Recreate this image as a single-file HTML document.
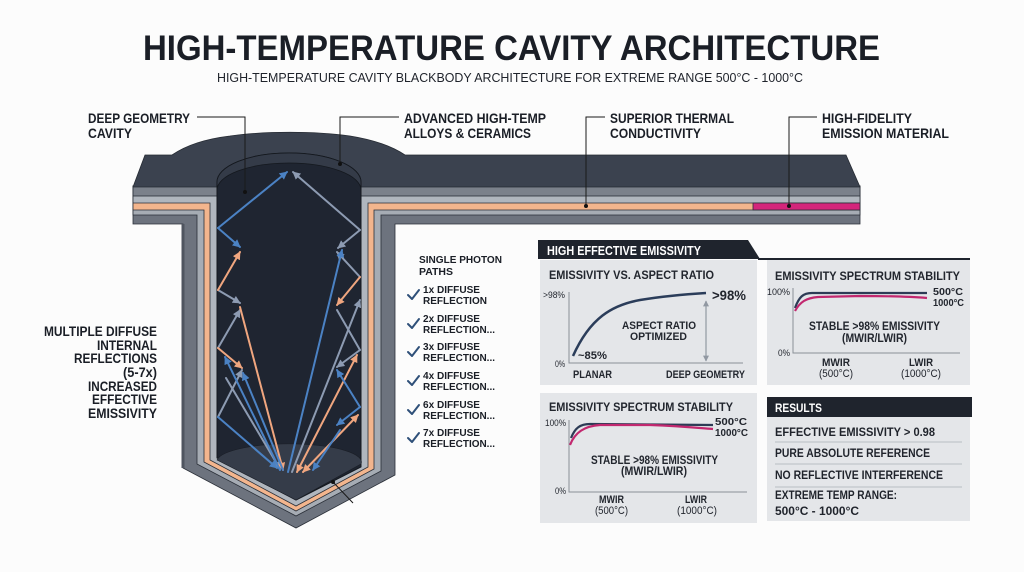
<!DOCTYPE html>
<html><head><meta charset="utf-8"><style>
html,body{margin:0;padding:0;background:#fcfcfc;}
svg{display:block;font-family:"Liberation Sans",Arial,sans-serif;}
</style></head><body>
<svg width="1024" height="572" viewBox="0 0 1024 572" xmlns="http://www.w3.org/2000/svg">
<defs>
<marker id="mb" viewBox="0 0 10 10" refX="9" refY="5" markerWidth="4" markerHeight="4" markerUnits="strokeWidth" orient="auto-start-reverse"><path d="M0,0 L10,5 L0,10 z" fill="#4b82c4"/></marker>
<marker id="mg" viewBox="0 0 10 10" refX="9" refY="5" markerWidth="4" markerHeight="4" markerUnits="strokeWidth" orient="auto-start-reverse"><path d="M0,0 L10,5 L0,10 z" fill="#8d9bb2"/></marker>
<marker id="mp" viewBox="0 0 10 10" refX="9" refY="5" markerWidth="4" markerHeight="4" markerUnits="strokeWidth" orient="auto-start-reverse"><path d="M0,0 L10,5 L0,10 z" fill="#f0a67f"/></marker>
<marker id="ma" viewBox="0 0 10 10" refX="9" refY="5" markerWidth="5" markerHeight="5" markerUnits="strokeWidth" orient="auto-start-reverse"><path d="M0,0 L10,5 L0,10 z" fill="#9198a2"/></marker>
</defs>
<rect width="1024" height="572" fill="#fcfcfc"/>

<!-- Title -->
<text x="143" y="60" font-size="35" font-weight="bold" fill="#1a1e26" textLength="737" lengthAdjust="spacingAndGlyphs">HIGH-TEMPERATURE CAVITY ARCHITECTURE</text>
<text x="217" y="82" font-size="13" fill="#1f232b" textLength="586" lengthAdjust="spacingAndGlyphs">HIGH-TEMPERATURE CAVITY BLACKBODY ARCHITECTURE FOR EXTREME RANGE 500°C - 1000°C</text>

<!-- Structure layers -->
<g stroke="#2a2f38" stroke-width="0.8" stroke-linejoin="miter">
<polygon points="133,186 133,224 183,224 183,468 296,528 395,475 395,224 860,224 860,186" fill="#6d737e"/>
<polygon points="133,186 133,215 197,215 197,464 296,516 381,471 381,215 860,215 860,186" fill="#a6acb4"/>
<polygon points="133,186 133,210 204,210 204,462 296,511 374,469 374,210 860,210 860,186" fill="#f3b58d"/>
<polygon points="133,186 133,203 210,203 210,460 296,506 368,467 368,203 860,203 860,186" fill="#b0b6be"/>
<rect x="753" y="203" width="107" height="7" fill="#d4257b"/>
<rect x="133" y="186" width="727" height="10" fill="#7b818b"/>
<path d="M133,187 L145,155 L172,155 C185,146 205,139 230,136 C265,131 315,131 350,136 C375,140 393,147 405,155 L846,155 L860,187 Z" fill="#3b424f" stroke="#262b33"/>
</g>
<line x1="183" y1="224" x2="183" y2="468" stroke="#4f5560" stroke-width="3"/>

<!-- Cavity -->
<path d="M217,182 A72,29 0 0 1 361,182 L361,467 L296,500 L217,458 Z" fill="#1f2531" stroke="#14181e" stroke-width="1"/>
<path d="M217,182 A72,29 0 0 1 361,182 L361,190 A72,27 0 0 0 217,190 Z" fill="#343b48" stroke="#14181e" stroke-width="0.8"/>
<path d="M217,460 A72,18 0 0 1 361,464 L296,500 Z" fill="#353c49" stroke="#1a1e26" stroke-width="0.6"/>

<!-- Photon paths -->
<g stroke-width="2" fill="none" stroke-linecap="round">
<g stroke="#8d9bb2">
<line x1="360" y1="230" x2="293" y2="172" marker-end="url(#mg)"/>
<line x1="360" y1="230" x2="338" y2="248" marker-end="url(#mg)"/>
<line x1="218" y1="290" x2="240" y2="303" marker-end="url(#mg)"/>
<line x1="218" y1="348" x2="240" y2="310" marker-end="url(#mg)"/>
<line x1="218" y1="417" x2="242" y2="370" marker-end="url(#mg)"/>
<line x1="226" y1="378" x2="280" y2="469" marker-end="url(#mg)"/>
<line x1="292" y1="472" x2="360" y2="300" marker-end="url(#mg)"/>
<line x1="360" y1="277" x2="337" y2="252" marker-end="url(#mg)"/>
<line x1="337" y1="310" x2="360" y2="350"/>
<line x1="360" y1="350" x2="337" y2="367" marker-end="url(#mg)"/>
</g>
<g stroke="#f0a67f">
<line x1="218" y1="290" x2="240" y2="252" marker-end="url(#mp)"/>
<line x1="240" y1="307" x2="283" y2="470" marker-end="url(#mp)"/>
<line x1="218" y1="348" x2="242" y2="368" marker-end="url(#mp)"/>
<line x1="360" y1="277" x2="337" y2="305" marker-end="url(#mp)"/>
<line x1="297" y1="472" x2="357" y2="355" marker-end="url(#mp)" marker-start="url(#mp)"/>
<line x1="303" y1="472" x2="358" y2="415" marker-end="url(#mp)" marker-start="url(#mp)"/>
</g>
<g stroke="#4b82c4">
<line x1="218" y1="228" x2="240" y2="247" marker-end="url(#mb)"/>
<line x1="218" y1="228" x2="287" y2="172" marker-end="url(#mb)"/>
<line x1="280" y1="470" x2="225" y2="357" marker-end="url(#mb)"/>
<line x1="283" y1="470" x2="243" y2="373" marker-end="url(#mb)"/>
<line x1="218" y1="417" x2="277" y2="468" marker-end="url(#mb)"/>
<line x1="288" y1="472" x2="342" y2="250" marker-end="url(#mb)"/>
<line x1="360" y1="407" x2="337" y2="370" marker-end="url(#mb)"/>
<line x1="360" y1="407" x2="337" y2="425" marker-end="url(#mb)"/>
<line x1="340" y1="430" x2="313" y2="470" marker-end="url(#mb)"/>
</g>
</g>

<!-- Leader lines -->
<g stroke="#1a1a1a" stroke-width="1" fill="none">
<polyline points="197,117 245,117 245,192"/>
<polyline points="399,117 340,117 340,164"/>
<polyline points="605,117 586,117 586,206"/>
<polyline points="817,117 789,117 789,206"/>
<line x1="333" y1="482" x2="353" y2="503"/>
</g>
<g fill="#111">
<circle cx="245" cy="192" r="2"/><circle cx="340" cy="164" r="2"/>
<circle cx="586" cy="206" r="2"/><circle cx="789" cy="206" r="2"/>
<circle cx="333" cy="482" r="2"/>
</g>

<!-- Top labels -->
<g font-size="14" font-weight="bold" fill="#1a1e26">
<text x="88" y="123" textLength="102" lengthAdjust="spacingAndGlyphs">DEEP GEOMETRY</text>
<text x="88" y="138" textLength="44" lengthAdjust="spacingAndGlyphs">CAVITY</text>
<text x="404" y="123" textLength="142" lengthAdjust="spacingAndGlyphs">ADVANCED HIGH-TEMP</text>
<text x="404" y="138" textLength="127" lengthAdjust="spacingAndGlyphs">ALLOYS &amp; CERAMICS</text>
<text x="610" y="123" textLength="124" lengthAdjust="spacingAndGlyphs">SUPERIOR THERMAL</text>
<text x="610" y="138" textLength="91" lengthAdjust="spacingAndGlyphs">CONDUCTIVITY</text>
<text x="822" y="123" textLength="90" lengthAdjust="spacingAndGlyphs">HIGH-FIDELITY</text>
<text x="822" y="138" textLength="127" lengthAdjust="spacingAndGlyphs">EMISSION MATERIAL</text>
</g>

<!-- Left block -->
<g font-size="13.5" font-weight="bold" fill="#1a1e26" text-anchor="end">
<text x="157" y="336" textLength="113" lengthAdjust="spacingAndGlyphs">MULTIPLE DIFFUSE</text>
<text x="157" y="350" textLength="60" lengthAdjust="spacingAndGlyphs">INTERNAL</text>
<text x="157" y="363" textLength="83" lengthAdjust="spacingAndGlyphs">REFLECTIONS</text>
<text x="157" y="377" textLength="34" lengthAdjust="spacingAndGlyphs">(5-7x)</text>
<text x="157" y="391" textLength="69" lengthAdjust="spacingAndGlyphs">INCREASED</text>
<text x="157" y="404" textLength="65" lengthAdjust="spacingAndGlyphs">EFFECTIVE</text>
<text x="157" y="418" textLength="69" lengthAdjust="spacingAndGlyphs">EMISSIVITY</text>
</g>

<!-- Single photon paths -->
<g font-size="10.5" font-weight="bold" fill="#1a1e26">
<text x="419" y="263" textLength="83" lengthAdjust="spacingAndGlyphs">SINGLE PHOTON</text>
<text x="419" y="275" textLength="34" lengthAdjust="spacingAndGlyphs">PATHS</text>
<text x="423" y="293" textLength="57" lengthAdjust="spacingAndGlyphs">1x DIFFUSE</text>
<text x="423" y="304" textLength="64" lengthAdjust="spacingAndGlyphs">REFLECTION</text>
<text x="423" y="322" textLength="57" lengthAdjust="spacingAndGlyphs">2x DIFFUSE</text>
<text x="423" y="333" textLength="72" lengthAdjust="spacingAndGlyphs">REFLECTION...</text>
<text x="423" y="350" textLength="57" lengthAdjust="spacingAndGlyphs">3x DIFFUSE</text>
<text x="423" y="361" textLength="72" lengthAdjust="spacingAndGlyphs">REFLECTION...</text>
<text x="423" y="379" textLength="57" lengthAdjust="spacingAndGlyphs">4x DIFFUSE</text>
<text x="423" y="390" textLength="72" lengthAdjust="spacingAndGlyphs">REFLECTION...</text>
<text x="423" y="408" textLength="57" lengthAdjust="spacingAndGlyphs">6x DIFFUSE</text>
<text x="423" y="419" textLength="72" lengthAdjust="spacingAndGlyphs">REFLECTION...</text>
<text x="423" y="436" textLength="57" lengthAdjust="spacingAndGlyphs">7x DIFFUSE</text>
<text x="423" y="447" textLength="72" lengthAdjust="spacingAndGlyphs">REFLECTION...</text>
</g>
<g stroke="#2f5079" stroke-width="2" fill="none" stroke-linecap="round" stroke-linejoin="round">
<polyline points="408,295 412,299 419,290"/>
<polyline points="408,324 412,328 419,319"/>
<polyline points="408,352 412,356 419,347"/>
<polyline points="408,381 412,385 419,376"/>
<polyline points="408,410 412,414 419,405"/>
<polyline points="408,438 412,442 419,433"/>
</g>

<!-- Panels -->
<rect x="540" y="260" width="217" height="125" fill="#e4e6e9"/>
<rect x="767" y="260" width="203" height="125" fill="#e4e6e9"/>
<rect x="540" y="393" width="217" height="130" fill="#e4e6e9"/>
<rect x="767" y="417" width="203" height="104" fill="#e4e6e9"/>
<path d="M538,240 L748,240 L760,259 L538,259 Z" fill="#1f242d"/>
<rect x="758" y="258" width="212" height="2" fill="#1f242d"/>
<rect x="767" y="397" width="205" height="20" fill="#1f242d"/>
<text x="547" y="255" font-size="12.5" font-weight="bold" fill="#fff" textLength="154" lengthAdjust="spacingAndGlyphs">HIGH EFFECTIVE EMISSIVITY</text>
<text x="775" y="412" font-size="12" font-weight="bold" fill="#fff" textLength="47" lengthAdjust="spacingAndGlyphs">RESULTS</text>

<!-- Panel 1 -->
<g fill="#22262e">
<text x="549" y="279" font-size="12" font-weight="bold" textLength="165" lengthAdjust="spacingAndGlyphs">EMISSIVITY VS. ASPECT RATIO</text>
<text x="543" y="298" font-size="9" textLength="22" lengthAdjust="spacingAndGlyphs">&gt;98%</text>
<text x="555" y="367" font-size="9" textLength="10" lengthAdjust="spacingAndGlyphs">0%</text>
<text x="712" y="300" font-size="14" font-weight="bold" textLength="34" lengthAdjust="spacingAndGlyphs">&gt;98%</text>
<text x="622" y="329" font-size="11" font-weight="bold" textLength="74" lengthAdjust="spacingAndGlyphs">ASPECT RATIO</text>
<text x="630" y="340" font-size="11" font-weight="bold" textLength="57" lengthAdjust="spacingAndGlyphs">OPTIMIZED</text>
<text x="578" y="359" font-size="11" font-weight="bold" textLength="29" lengthAdjust="spacingAndGlyphs">~85%</text>
<text x="573" y="378" font-size="11" font-weight="bold" textLength="39" lengthAdjust="spacingAndGlyphs">PLANAR</text>
<text x="666" y="378" font-size="11" font-weight="bold" textLength="79" lengthAdjust="spacingAndGlyphs">DEEP GEOMETRY</text>
</g>
<polyline points="569,292 569,363 743,363" fill="none" stroke="#8a9098" stroke-width="1"/>
<path d="M573,356 C590,318 612,305 640,300 C665,296 690,294 706,293" fill="none" stroke="#2b3d5a" stroke-width="2.5"/>
<line x1="706" y1="301" x2="706" y2="361" stroke="#9198a2" stroke-width="1.2" marker-start="url(#ma)" marker-end="url(#ma)"/>

<!-- Panel 2 -->
<g fill="#22262e">
<text x="775" y="280" font-size="12" font-weight="bold" textLength="185" lengthAdjust="spacingAndGlyphs">EMISSIVITY SPECTRUM STABILITY</text>
<text x="767" y="295" font-size="9.5" textLength="23" lengthAdjust="spacingAndGlyphs">100%</text>
<text x="778" y="356" font-size="9.5" textLength="12" lengthAdjust="spacingAndGlyphs">0%</text>
<text x="933" y="295" font-size="10.5" font-weight="bold" textLength="30" lengthAdjust="spacingAndGlyphs">500°C</text>
<text x="933" y="306" font-size="10.5" font-weight="bold" textLength="31" lengthAdjust="spacingAndGlyphs">1000°C</text>
<text x="809" y="330" font-size="11.5" font-weight="bold" textLength="131" lengthAdjust="spacingAndGlyphs">STABLE &gt;98% EMISSIVITY</text>
<text x="842" y="342" font-size="11.5" font-weight="bold" textLength="65" lengthAdjust="spacingAndGlyphs">(MWIR/LWIR)</text>
<text x="822" y="366" font-size="11" font-weight="bold" textLength="28" lengthAdjust="spacingAndGlyphs">MWIR</text>
<text x="819" y="377" font-size="11" textLength="34" lengthAdjust="spacingAndGlyphs">(500°C)</text>
<text x="909" y="366" font-size="11" font-weight="bold" textLength="24" lengthAdjust="spacingAndGlyphs">LWIR</text>
<text x="901" y="377" font-size="11" textLength="40" lengthAdjust="spacingAndGlyphs">(1000°C)</text>
</g>
<polyline points="793,288 793,353 960,353" fill="none" stroke="#8a9098" stroke-width="1"/>
<path d="M795,308 C799,297 803,293 812,293 L927,293" fill="none" stroke="#2d3b55" stroke-width="2.2"/>
<path d="M795,311 C800,302 806,298 818,297 L860,296 C890,296 915,297 927,298" fill="none" stroke="#c2286f" stroke-width="2.2"/>

<!-- Panel 3 -->
<g fill="#22262e">
<text x="549" y="411" font-size="12" font-weight="bold" textLength="184" lengthAdjust="spacingAndGlyphs">EMISSIVITY SPECTRUM STABILITY</text>
<text x="545" y="426" font-size="9.5" textLength="21" lengthAdjust="spacingAndGlyphs">100%</text>
<text x="555" y="494" font-size="9.5" textLength="11" lengthAdjust="spacingAndGlyphs">0%</text>
<text x="715" y="425" font-size="10.5" font-weight="bold" textLength="32" lengthAdjust="spacingAndGlyphs">500°C</text>
<text x="715" y="436" font-size="10.5" font-weight="bold" textLength="33" lengthAdjust="spacingAndGlyphs">1000°C</text>
<text x="591" y="464" font-size="11.5" font-weight="bold" textLength="127" lengthAdjust="spacingAndGlyphs">STABLE &gt;98% EMISSIVITY</text>
<text x="621" y="475" font-size="11.5" font-weight="bold" textLength="66" lengthAdjust="spacingAndGlyphs">(MWIR/LWIR)</text>
<text x="599" y="503" font-size="11" font-weight="bold" textLength="25" lengthAdjust="spacingAndGlyphs">MWIR</text>
<text x="595" y="514" font-size="11" textLength="33" lengthAdjust="spacingAndGlyphs">(500°C)</text>
<text x="685" y="503" font-size="11" font-weight="bold" textLength="22" lengthAdjust="spacingAndGlyphs">LWIR</text>
<text x="677" y="514" font-size="11" textLength="40" lengthAdjust="spacingAndGlyphs">(1000°C)</text>
</g>
<polyline points="569,420 569,492 747,492" fill="none" stroke="#8a9098" stroke-width="1"/>
<path d="M571,438 C575,428 580,424 590,424 L713,425" fill="none" stroke="#2d3b55" stroke-width="2.2"/>
<path d="M570,445 C575,432 585,426 600,425 L650,425 C680,426 700,428 713,429" fill="none" stroke="#c2286f" stroke-width="2.2"/>

<!-- Results -->
<g fill="#1f232b" font-size="12" font-weight="bold">
<text x="775" y="436" textLength="160" lengthAdjust="spacingAndGlyphs">EFFECTIVE EMISSIVITY &gt; 0.98</text>
<text x="775" y="457" textLength="155" lengthAdjust="spacingAndGlyphs">PURE ABSOLUTE REFERENCE</text>
<text x="775" y="479" textLength="168" lengthAdjust="spacingAndGlyphs">NO REFLECTIVE INTERFERENCE</text>
<text x="775" y="499" textLength="122" lengthAdjust="spacingAndGlyphs">EXTREME TEMP RANGE:</text>
<text x="775" y="515" textLength="84" lengthAdjust="spacingAndGlyphs">500°C - 1000°C</text>
</g>
<g stroke="#b9bdc3" stroke-width="1">
<line x1="775" y1="442" x2="962" y2="442"/>
<line x1="775" y1="464" x2="962" y2="464"/>
<line x1="775" y1="487" x2="962" y2="487"/>
</g>
</svg>
</body></html>
